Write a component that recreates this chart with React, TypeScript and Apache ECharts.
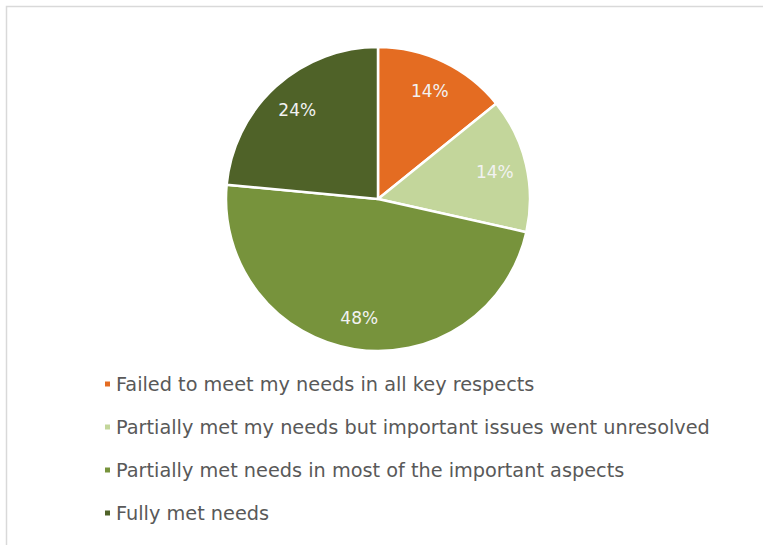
import React, { useEffect, useRef } from "react";
import * as echarts from "echarts";

const categories = [
  "Failed to meet my needs in all key respects",
  "Partially met my needs but important issues went unresolved",
  "Partially met needs in most of the important aspects",
  "Fully met needs",
];
const values = [14.2, 14.3, 48.0, 23.5];
const colors = ["#E46C22", "#C3D69B", "#77933C", "#4F6228"];

export default function App() {
  const ref = useRef<HTMLDivElement>(null);
  useEffect(() => {
    document.body.style.margin = "0";
    const chart = echarts.init(ref.current!, null, { renderer: "svg" });
    const data = categories.map((name, i) => ({
      name,
      value: values[i],
      itemStyle: { color: colors[i] },
    }));
    chart.setOption({
      animation: false,
      backgroundColor: "#ffffff",
      graphic: [
        {
          type: "rect",
          shape: { x: 6.5, y: 6.5, width: 800, height: 600 },
          style: { fill: "none", stroke: "#d9d9d9", lineWidth: 1.5 },
          silent: true,
        },
      ],
      legend: {
        orient: "vertical",
        left: 98,
        top: 369,
        icon: "rect",
        itemWidth: 7,
        itemHeight: 7,
        itemGap: 23,
        data: categories,
        textStyle: {
          fontFamily: "DejaVu Sans",
          fontSize: 19.3,
          color: "#595959",
          lineHeight: 20,
        },
      },
      series: [
        {
          type: "pie",
          center: [378, 199],
          radius: [0, 152],
          startAngle: 90,
          clockwise: true,
          silent: true,
          data,
          label: { show: false },
          labelLine: { show: false },
          itemStyle: { borderColor: "#ffffff", borderWidth: 2.5 },
        },
        {
          type: "pie",
          center: [378, 199],
          radius: [82, 152],
          startAngle: 90,
          clockwise: true,
          silent: true,
          data: categories.map((name, i) => ({ name: name + " ", value: values[i] })),
          itemStyle: { color: "transparent" },
          label: {
            show: true,
            position: "inside",
            formatter: (p: any) => Math.round(p.percent) + "%",
            fontFamily: "DejaVu Sans",
            fontSize: 17,
            color: "#F2F2F2",
          },
          labelLine: { show: false },
        },
      ],
    });
    return () => chart.dispose();
  }, []);
  return <div ref={ref} style={{ width: 763, height: 545 }} />;
}
